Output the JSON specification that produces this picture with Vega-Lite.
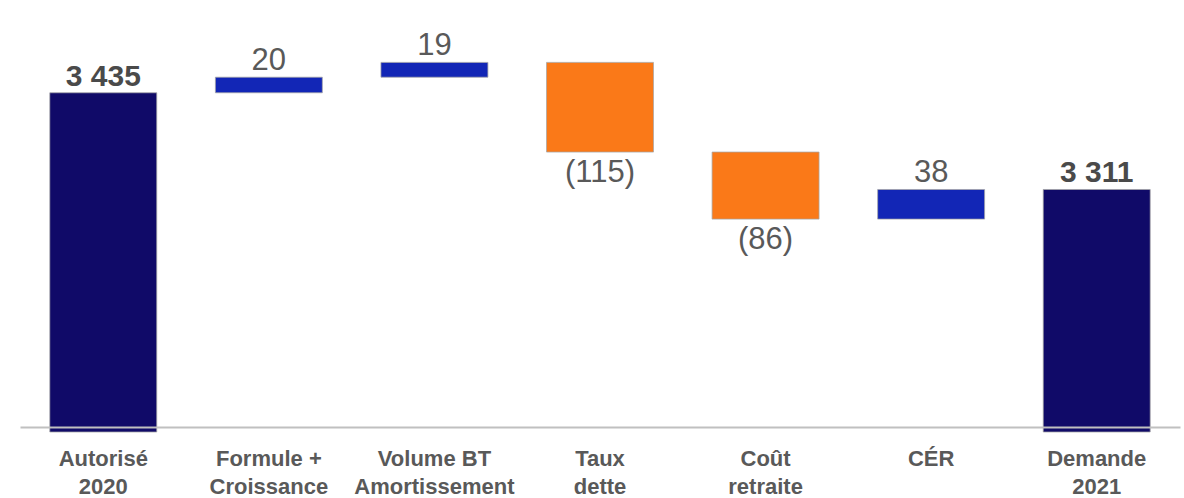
{
  "$schema": "https://vega.github.io/schema/vega-lite/v6.json",
  "width": 1160,
  "height": 432,
  "padding": {"left": 20, "right": 4, "top": 0, "bottom": 0},
  "autosize": {"type": "pad"},
  "config": {
    "view": {"stroke": null},
    "font": "Liberation Sans"
  },
  "data": {
    "values": [
      {"cat": "Autorisé|2020", "start": 3000, "end": 3435, "kind": "total", "label": "3 435", "dir": "up"},
      {"cat": "Formule +|Croissance", "start": 3435, "end": 3455, "kind": "increase", "label": "20", "dir": "up"},
      {"cat": "Volume BT|Amortissement", "start": 3455, "end": 3474, "kind": "increase", "label": "19", "dir": "up"},
      {"cat": "Taux|dette", "start": 3474, "end": 3359, "kind": "decrease", "label": "(115)", "dir": "down"},
      {"cat": "Coût|retraite", "start": 3359, "end": 3273, "kind": "decrease", "label": "(86)", "dir": "down"},
      {"cat": "CÉR", "start": 3273, "end": 3311, "kind": "increase", "label": "38", "dir": "up"},
      {"cat": "Demande|2021", "start": 3000, "end": 3311, "kind": "total", "label": "3 311", "dir": "up"}
    ]
  },
  "encoding": {
    "x": {
      "field": "cat",
      "type": "nominal",
      "sort": null,
      "title": null,
      "scale": {"paddingInner": 0.354, "paddingOuter": 0.18},
      "axis": {
        "labelAngle": 0,
        "labelExpr": "split(datum.label, '|')",
        "labelFont": "Liberation Sans",
        "labelFontWeight": "bold",
        "labelFontSize": 22,
        "labelColor": "#595959",
        "labelLineHeight": 28,
        "labelPadding": 21,
        "labelBaseline": "top",
        "ticks": false,
        "tickSize": 0,
        "domain": true,
        "domainColor": "#c0c0c0",
        "domainWidth": 2,
        "offset": -5,
        "zindex": 1,
        "grid": false
      }
    }
  },
  "layer": [
    {
      "mark": {"type": "bar", "stroke": "#a6a6a6", "strokeWidth": 0.75},
      "encoding": {
        "y": {
          "field": "start",
          "type": "quantitative",
          "scale": {"domain": [3000, 3554], "nice": false, "zero": false},
          "axis": null
        },
        "y2": {"field": "end"},
        "color": {
          "field": "kind",
          "type": "nominal",
          "scale": {"domain": ["total", "increase", "decrease"], "range": ["#100a68", "#1226b6", "#fa7918"]},
          "legend": null
        }
      }
    },
    {
      "transform": [{"filter": "datum.kind == 'increase'"}],
      "mark": {"type": "text", "baseline": "alphabetic", "dy": -7, "fontSize": 31, "font": "Liberation Sans", "color": "#595959"},
      "encoding": {
        "y": {"field": "end", "type": "quantitative"},
        "text": {"field": "label"}
      }
    },
    {
      "transform": [{"filter": "datum.kind == 'total'"}],
      "mark": {"type": "text", "baseline": "alphabetic", "dy": -7, "fontSize": 30, "fontWeight": "bold", "font": "Liberation Sans", "color": "#4a4a4a"},
      "encoding": {
        "y": {"field": "end", "type": "quantitative"},
        "text": {"field": "label"}
      }
    },
    {
      "transform": [{"filter": "datum.dir == 'down'"}],
      "mark": {"type": "text", "baseline": "alphabetic", "dy": 30, "fontSize": 31, "font": "Liberation Sans", "color": "#595959"},
      "encoding": {
        "y": {"field": "end", "type": "quantitative"},
        "text": {"field": "label"}
      }
    }
  ]
}
